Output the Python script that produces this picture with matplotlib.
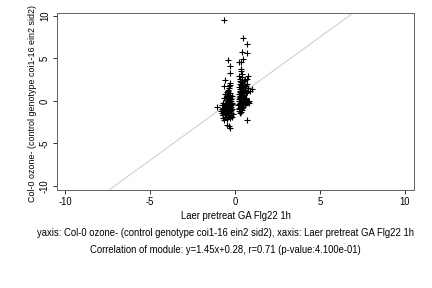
import matplotlib
matplotlib.use("Agg")
import matplotlib.pyplot as plt
import numpy as np

plt.rcParams['font.family'] = ['Liberation Sans', 'DejaVu Sans']

# left cluster (x, y)
left_x = [-0.65, -0.43, -0.29, -0.29, -0.57, -0.32, -0.28, -0.65, -0.43, -1.04,
          -0.47, -0.37, -0.31, -0.70, -0.72,
          -0.82, -0.78, -0.76, -0.74, -0.72, -0.70, -0.68, -0.66, -0.64, -0.62,
          -0.60, -0.58, -0.57, -0.55, -0.54, -0.52, -0.50, -0.49, -0.48, -0.46,
          -0.45, -0.44, -0.42, -0.41, -0.40, -0.39, -0.38, -0.36, -0.35, -0.34,
          -0.33, -0.32, -0.30, -0.29, -0.28, -0.27, -0.26, -0.25, -0.24, -0.22,
          -0.21, -0.20, -0.18, -0.17, -0.15, -0.14, -0.60, -0.50, -0.40, -0.30,
          -0.45, -0.35, -0.55, -0.65, -0.42, -0.38, -0.33, -0.28, -0.48, -0.62,
          -0.36, -0.44, -0.52, -0.58, -0.26, -0.31, -0.47, -0.39, -0.23, -0.19,
          -0.70, -0.34, -0.41, -0.53, -0.29, -0.37]
left_y = [9.5, 4.8, 4.1, 3.35, 2.5, 2.1, 1.9, 1.8, 1.3, -0.7,
          -2.8, -3.0, -3.2, -2.0, -1.6,
          -1.2, -0.9, -1.4, -0.5, -1.1, -0.2, -1.7, -0.8, 0.3, -1.3,
          -0.4, 0.8, -1.9, -0.9, 0.1, -1.5, -0.6, 0.5, -1.1, -0.2,
          1.0, -1.7, -0.8, 0.2, -1.3, -0.4, 0.7, -1.0, -0.1, 1.5,
          -1.6, -0.6, 0.4, -1.2, -0.3, 0.9, -1.8, -0.7, 0.0, -1.4,
          -0.5, 0.6, -1.0, -1.9, -0.3, -1.5, -1.0, -1.4, -0.9, -0.8,
          -0.5, -1.4, -0.3, -1.2, 1.2, 1.8, 0.3, -2.0, -2.1, -2.2,
          0.9, 0.6, 0.4, -0.7, 0.2, -1.1, -1.2, -1.9, -1.1, -0.2,
          -0.8, -0.5, -0.2, -1.7, 0.7, -0.7]

# right cluster (x, y)
right_x = [0.49, 0.70, 0.41, 0.70, 0.49, 0.22, 0.33, 0.33, 0.37, 0.42,
           0.78, 0.72, 0.60, 1.02, 0.90, 0.72, 0.84, 0.72, 0.25, 0.28,
           0.20, 0.22, 0.23, 0.24, 0.25, 0.26, 0.27, 0.28, 0.29, 0.30,
           0.31, 0.32, 0.33, 0.34, 0.35, 0.36, 0.37, 0.38, 0.39, 0.40,
           0.41, 0.42, 0.43, 0.44, 0.45, 0.46, 0.47, 0.48, 0.50, 0.52,
           0.54, 0.56, 0.58, 0.60, 0.62, 0.65, 0.68, 0.72, 0.76, 0.80,
           0.24, 0.28, 0.31, 0.35, 0.38, 0.41, 0.44, 0.47, 0.50, 0.53,
           0.57, 0.62, 0.66, 0.70, 0.74, 0.30, 0.36, 0.26, 0.34, 0.42,
           0.46, 0.50, 0.55, 0.60, 0.64, 0.27, 0.33, 0.39, 0.45, 0.52,
           0.22, 0.29, 0.37, 0.43, 0.48]
right_y = [7.4, 6.7, 5.8, 5.6, 4.9, 4.6, 4.6, 3.8, 3.5, 3.2,
           2.9, 2.6, 2.5, 1.4, 1.2, 1.0, 0.0, -2.2, 2.9, 2.3,
           -0.5, 0.8, -1.2, 1.6, 0.2, -0.8, 2.0, 0.5, -1.4, 1.2,
           -0.2, 2.6, 0.9, -0.9, 1.7, 0.3, -0.5, 2.2, 1.0, -1.1,
           0.6, 1.5, -0.3, 2.4, 0.1, 1.1, -0.7, 0.4, 1.9, -0.1,
           0.7, -0.4, 1.3, 0.0, -0.2, 0.4, -0.1, -0.15, -0.1, -0.2,
           -0.3, 1.4, 0.6, -0.6, 0.0, 2.8, -0.4, 1.6, 0.9, 2.3,
           0.3, 1.8, 0.9, 2.0, 1.5, -1.0, -1.3, 0.0, 0.2, -0.8,
           0.6, -0.5, 1.0, -0.5, 0.2, 1.1, 1.9, -0.2, 1.3, 0.2,
           -0.9, 0.4, 1.4, 0.8, -0.2]

slope = 1.45
intercept = 0.28
ticks = [-10, -5, 0, 5, 10]

xlabel = "Laer pretreat GA Flg22 1h"
ylabel = "Col-0 ozone- (control genotype coi1-16 ein2 sid2)"
caption1 = "yaxis: Col-0 ozone- (control genotype coi1-16 ein2 sid2), xaxis: Laer pretreat GA Flg22 1h"
caption2 = "Correlation of module: y=1.45x+0.28, r=0.71 (p-value:4.100e-01)"

W, H = 432, 288
fig = plt.figure(figsize=(6, 4), dpi=72)
ax = fig.add_axes([57 / W, 1 - 190 / H, (414 - 57) / W, (190 - 13) / H])

ax.set_xlim(-10.47, 10.53)
ax.set_ylim(-10.47, 10.35)

# regression line
lx = np.array([-12.0, 12.0])
ax.plot(lx, slope * lx + intercept, color='#cccccc', lw=1, zorder=1)

ax.plot(left_x + right_x, left_y + right_y, linestyle='none', marker='+',
        color='black', ms=5.5, mew=1.1, zorder=2)

ax.set_xticks(ticks)
ax.set_yticks(ticks)
ax.set_xticklabels([str(t) for t in ticks], fontsize=9.5)
ax.set_yticklabels([str(t) for t in ticks], fontsize=9.5, rotation=90, va='center')
ax.tick_params(direction='out', length=4, width=1, color='#333333', pad=3)

for s in ax.spines.values():
    s.set_color('#666666')
    s.set_linewidth(1)

fig.text(235.5 / W, 1 - 216 / H, xlabel, ha='center', va='center', fontsize=9.5)
# y label is a bit long for the figure height, so slightly smaller
fig.text(33 / W, 1 - 103 / H, ylabel, ha='center', va='center', fontsize=8.9,
         rotation=90)
fig.text(225 / W, 1 - 233 / H, caption1, ha='center', va='center', fontsize=9.5)
fig.text(225 / W, 1 - 250 / H, caption2, ha='center', va='center', fontsize=9.5)

fig.savefig("out.png", dpi=72)
